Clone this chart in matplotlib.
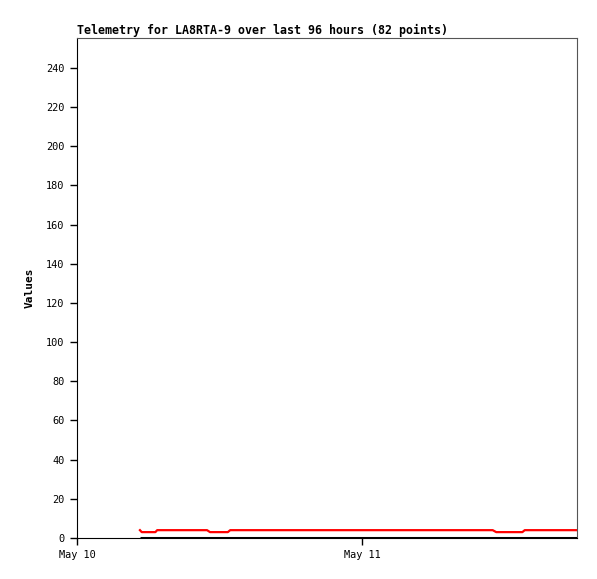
import datetime as dt
import matplotlib
matplotlib.use("Agg")
import matplotlib.pyplot as plt
import matplotlib.dates as mdates

# hours after May 10 00:00
red_hours = [5.3, 5.45, 6.6, 6.75, 10.95, 11.2, 12.7, 12.9, 35.0, 35.3, 37.5, 37.7, 42.1]
red_values = [4, 3, 3, 4, 4, 3, 3, 4, 4, 3, 3, 4, 4]
black_hours = [5.3, 42.1]
black_values = [0, 0]

y_ticks = list(range(0, 241, 20))
title = "Telemetry for LA8RTA-9 over last 96 hours (82 points)"

start = dt.datetime(2024, 5, 10)
to_time = lambda hs: [start + dt.timedelta(hours=h) for h in hs]

plt.rcParams['font.family'] = ['DejaVu Sans Mono']

fig = plt.figure(figsize=(5.97, 5.79), dpi=100)
ax = fig.add_axes([77/597, 1 - 538/579, 500/597, 500/579])

ax.plot(to_time(black_hours), black_values, color='black', lw=2.2, solid_capstyle='butt', zorder=3)
ax.plot(to_time(red_hours), red_values, color='#ff0000', lw=1.6, zorder=4)

ax.set_xlim(start, start + dt.timedelta(hours=42.1))
ax.set_ylim(0, 255.3)
ax.set_yticks(y_ticks)
ax.xaxis.set_major_locator(mdates.DayLocator())
ax.xaxis.set_major_formatter(mdates.DateFormatter('%b %d'))

ax.tick_params(axis='both', labelsize=7.4, length=5, width=1, direction='out', pad=4)
ax.set_ylabel("Values", fontsize=8, fontweight='bold', labelpad=8)
ax.set_title(title, fontsize=8.4, fontweight='bold', loc='left', pad=3)

for side in ('top', 'right'):
    ax.spines[side].set_color('#555555')
for side in ('left', 'bottom'):
    ax.spines[side].set_color('black')

fig.savefig("out.png", dpi=100)
